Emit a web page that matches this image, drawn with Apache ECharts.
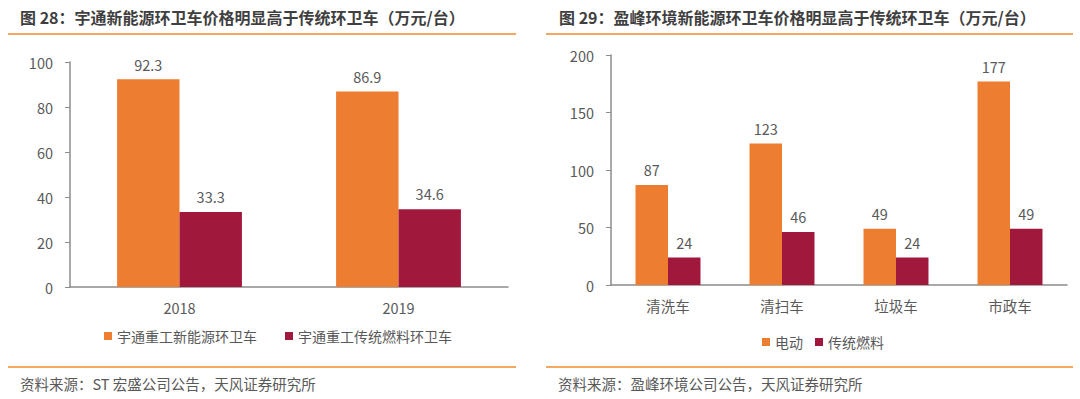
<!DOCTYPE html>
<html>
<head>
<meta charset="utf-8">
<script src="https://cdn.jsdelivr.net/npm/echarts@6/dist/echarts.min.js"></script>
<style>
  html, body { margin: 0; padding: 0; background: #ffffff; }
  #chart { width: 1080px; height: 399px; }
</style>
</head>
<body>
<div id="chart"></div>
<script>
// 图 28 宇通
const yutongYears = ['2018', '2019']
const yutongNewEnergy = [92.3, 86.9]
const yutongFuel = [33.3, 34.6]
const yutongTicks = [0, 20, 40, 60, 80, 100]

// 图 29 盈峰环境
const yingfengTypes = ['清洗车', '清扫车', '垃圾车', '市政车']
const yingfengElectric = [87, 123, 49, 177]
const yingfengFuel = [24, 46, 24, 49]
const yingfengTicks = [0, 50, 100, 150, 200]

const orange = '#ED7D31'
const darkRed = '#A0193D'
const lineOrange = '#F08A2C'
const textGray = '#595959'
const font = 'Noto Sans CJK SC'

function drawChart () {
  const chart = echarts.init(document.getElementById('chart'), null, { renderer: 'svg' })

  const yAxisCommon = {
    type: 'value',
    axisLine: { show: true, lineStyle: { color: '#8C8C8C', width: 1.5 } },
    axisTick: { show: true, length: 5, lineStyle: { color: '#8C8C8C' } },
    splitLine: { show: false },
    axisLabel: { color: textGray, fontSize: 14.5, fontFamily: font, margin: 17 }
  }
  const xAxisCommon = {
    type: 'category',
    axisLine: { lineStyle: { color: '#8C8C8C', width: 1.5 } },
    axisTick: { show: false },
    axisLabel: { color: textGray, fontSize: 14.5, fontFamily: font, margin: 13 }
  }
  const barLabel = {
    show: true,
    position: 'top',
    distance: 8,
    color: textGray,
    fontSize: 14.5,
    fontFamily: font
  }
  const barCommon = {
    type: 'bar',
    barGap: '0%',
    barCategoryGap: '43%',
    label: barLabel
  }
  const legendCommon = {
    itemWidth: 8,
    itemHeight: 8,
    icon: 'rect',
    textStyle: { color: textGray, fontSize: 14, fontFamily: font }
  }

  const option = {
    animation: false,
    textStyle: { fontFamily: font },
    grid: [
      { left: 70, right: 572, top: 62, bottom: 112 },
      { left: 611, right: 13, top: 55, bottom: 114 }
    ],
    xAxis: [
      { ...xAxisCommon, gridIndex: 0, data: yutongYears },
      { ...xAxisCommon, gridIndex: 1, data: yingfengTypes }
    ],
    yAxis: [
      { ...yAxisCommon, gridIndex: 0, min: yutongTicks[0], max: yutongTicks[yutongTicks.length - 1], interval: yutongTicks[1] - yutongTicks[0] },
      { ...yAxisCommon, gridIndex: 1, min: yingfengTicks[0], max: yingfengTicks[yingfengTicks.length - 1], interval: yingfengTicks[1] - yingfengTicks[0] }
    ],
    legend: [
      { ...legendCommon, data: ['宇通重工新能源环卫车', '宇通重工传统燃料环卫车'], left: 99, top: 324, itemGap: 28 },
      { ...legendCommon, data: ['电动', '传统燃料'], left: 757, top: 330, itemGap: 12 }
    ],
    graphic: [
      // 标题与来源
      { type: 'text', left: 20, top: 9, style: { text: '图 28：宇通新能源环卫车价格明显高于传统环卫车（万元/台）', fill: '#3F3F3F', font: 'bold 16px "Noto Sans CJK SC"' } },
      { type: 'text', left: 559, top: 9, style: { text: '图 29：盈峰环境新能源环卫车价格明显高于传统环卫车（万元/台）', fill: '#3F3F3F', font: 'bold 16px "Noto Sans CJK SC"' } },
      { type: 'text', left: 20, top: 376, style: { text: '资料来源：ST 宏盛公司公告，天风证券研究所', fill: textGray, font: '14.5px "Noto Sans CJK SC"' } },
      { type: 'text', left: 558, top: 376, style: { text: '资料来源：盈峰环境公司公告，天风证券研究所', fill: textGray, font: '14.5px "Noto Sans CJK SC"' } },
      // 橙色分隔线
      { type: 'line', shape: { x1: 8, y1: 34, x2: 516, y2: 34 }, style: { stroke: lineOrange, lineWidth: 1.5 } },
      { type: 'line', shape: { x1: 546, y1: 34, x2: 1073, y2: 34 }, style: { stroke: lineOrange, lineWidth: 1.5 } },
      { type: 'line', shape: { x1: 8, y1: 367, x2: 516, y2: 367 }, style: { stroke: lineOrange, lineWidth: 1.5 } },
      { type: 'line', shape: { x1: 546, y1: 367, x2: 1073, y2: 367 }, style: { stroke: lineOrange, lineWidth: 1.5 } }
    ],
    series: [
      { ...barCommon, name: '宇通重工新能源环卫车', xAxisIndex: 0, yAxisIndex: 0, data: yutongNewEnergy, itemStyle: { color: orange } },
      { ...barCommon, name: '宇通重工传统燃料环卫车', xAxisIndex: 0, yAxisIndex: 0, data: yutongFuel, itemStyle: { color: darkRed } },
      { ...barCommon, name: '电动', xAxisIndex: 1, yAxisIndex: 1, data: yingfengElectric, itemStyle: { color: orange } },
      { ...barCommon, name: '传统燃料', xAxisIndex: 1, yAxisIndex: 1, data: yingfengFuel, itemStyle: { color: darkRed } }
    ]
  }
  chart.setOption(option)
}

drawChart()
</script>
</body>
</html>
